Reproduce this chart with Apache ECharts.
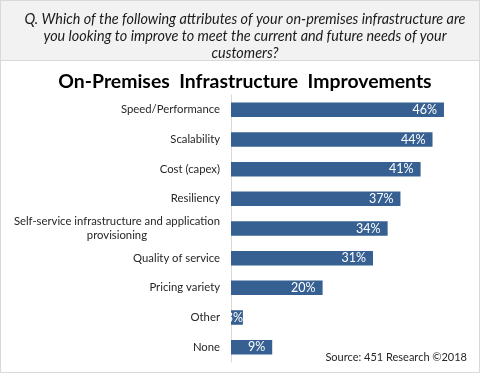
<!DOCTYPE html>
<html><head><meta charset="utf-8">
<script src="https://cdn.jsdelivr.net/npm/echarts@6/dist/echarts.min.js"></script>
<style>html,body{margin:0;padding:0;background:#fff}#c{width:480px;height:373px}</style>
</head><body><div id="c"></div>
<script>
const categories = ['Speed/Performance','Scalability','Cost (capex)','Resiliency','Self-service infrastructure and application\nprovisioning','Quality of service','Pricing variety','Other','None'];
const values = [46.5, 44, 41.4, 37, 34.2, 31, 20, 2.6, 9];
const labels = ['46%','44%','41%','37%','34%','31%','20%','3%','9%'];
const question = 'Q. Which of the following attributes of your on-premises infrastructure are\nyou looking to improve to meet the current and future needs of your\ncustomers?';
const chartTitle = 'On-Premises  Infrastructure  Improvements';
const source = 'Source: 451 Research ©2018';

const FONT = 'Lato';
const chart = echarts.init(document.getElementById('c'), null, {renderer:'canvas'});
chart.setOption({
  animation:false,
  graphic:[
    {type:'rect', shape:{x:0.5,y:0.5,width:479,height:372}, style:{fill:'#fff', stroke:'#d9d9d9', lineWidth:1}, z:-10},
    {type:'rect', shape:{x:0.5,y:0.5,width:479,height:60}, style:{fill:'#f2f2f2', stroke:'#d9d9d9', lineWidth:1}, z:-9}
  ],
  title:[
    {text:question, textAlign:'center', left:240, top:6, textStyle:{fontFamily:FONT, fontStyle:'italic', fontWeight:'normal', fontSize:14.4, lineHeight:17, color:'#1a1a1a', align:'center'}},
    {text:chartTitle, left:240, textAlign:'center', top:67, textStyle:{fontFamily:FONT, fontWeight:'bold', fontSize:19.4, color:'#000'}},
    {text:source, right:8, top:347, textStyle:{fontFamily:FONT, fontWeight:'normal', fontSize:11, color:'#262626'}}
  ],
  grid:{left:231, right:20, top:95, bottom:11, containLabel:false},
  xAxis:{type:'value', min:0, max:50, show:false},
  yAxis:{type:'category', data:categories, inverse:true,
    axisLine:{lineStyle:{color:'#d9d9d9'}},
    axisTick:{length:6, lineStyle:{color:'#d9d9d9'}},
    axisLabel:{fontFamily:FONT, fontSize:11.3, color:'#262626', margin:11, lineHeight:14,
      formatter:v=>v.split('\n').map(s=>'{c|'+s+'}').join('\n'),
      rich:{c:{align:'center', fontFamily:FONT, fontSize:11.3, color:'#262626', lineHeight:14}}}
  },
  series:[{type:'bar', data:values.map((v,i)=>v<5?{value:v,label:{distance:0}}:v), barCategoryGap:'51%', itemStyle:{color:'#366092'},
    label:{show:true, position:'insideRight', distance:7, formatter:p=>labels[p.dataIndex], fontFamily:FONT, fontSize:12.5, color:'#fff'}}]
});
</script></body></html>
